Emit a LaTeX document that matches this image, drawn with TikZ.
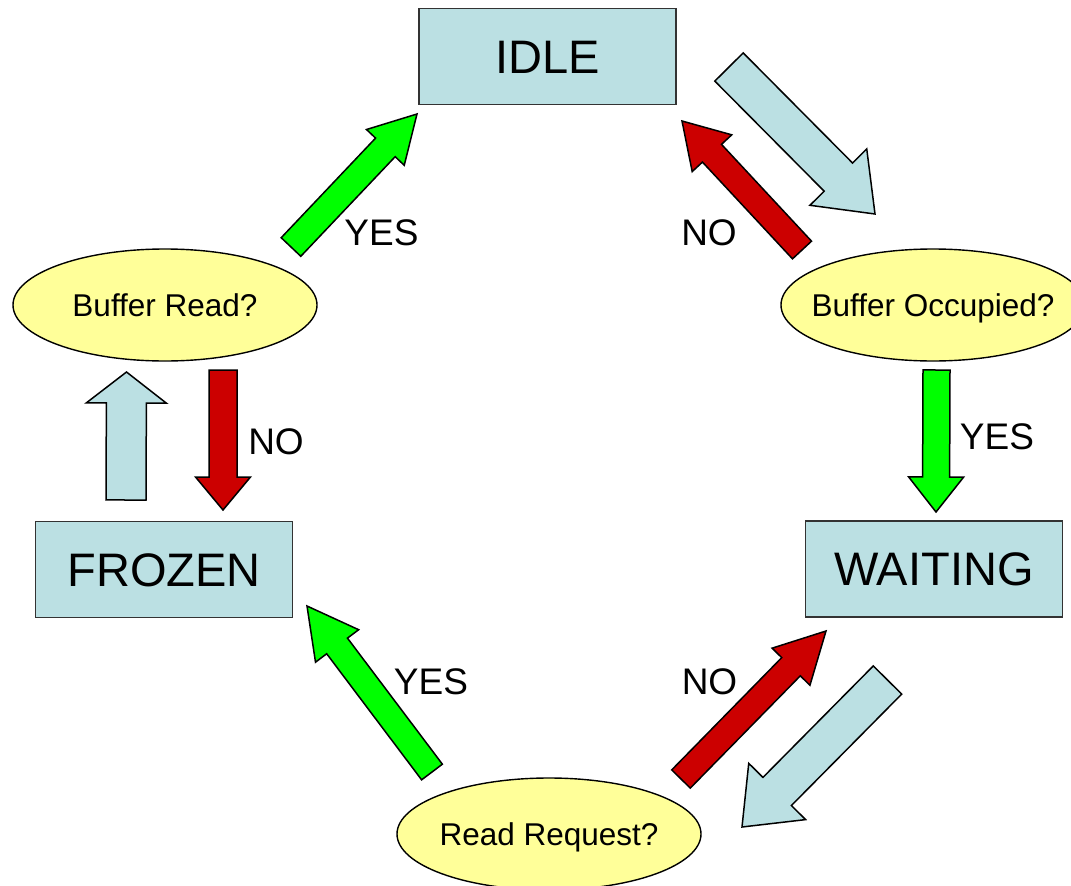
\documentclass[tikz,border=0pt]{standalone}
\usepackage{fontspec}
\setmainfont{Liberation Sans}
\usetikzlibrary{calc,shapes.geometric}

\definecolor{statefill}{HTML}{BBE0E3}
\definecolor{askfill}{HTML}{FFFF99}
\definecolor{yesgreen}{HTML}{00FF00}
\definecolor{nored}{HTML}{CC0000}

% Block arrow: #1 style, #2 tail centre, #3 tip,
% #4 half shaft width, #5 half head width, #6 head length
\newcommand\blockarrow[6]{%
  \coordinate (neck) at ($(#3)!#6!(#2)$);
  \filldraw[#1]
    ($(#2)!#4!90:(#3)$) -- ($(neck)!#4!90:(#3)$) -- ($(neck)!#5!90:(#3)$)
    -- (#3)
    -- ($(neck)!#5!-90:(#3)$) -- ($(neck)!#4!-90:(#3)$) -- ($(#2)!#4!-90:(#3)$)
    -- cycle;
}

% question text sits centred without widening the ellipse
\newcommand\asktext[1]{\makebox[0pt]{#1}}

\tikzset{
  state/.style={draw=black!80, line width=1.4pt, fill=statefill,
    minimum width=257pt, minimum height=96pt, inner sep=0pt,
    font=\fontsize{47}{50}\selectfont, text height=33.7pt, text depth=0pt},
  ask/.style={ellipse, draw=black, line width=1.4pt, fill=askfill,
    minimum width=304pt, minimum height=112pt, inner sep=0pt,
    font=\fontsize{31.5}{34}\selectfont, text height=22.6pt, text depth=0pt},
  answer/.style={font=\fontsize{37}{40}\selectfont, inner sep=0pt,
    text height=26.5pt, text depth=0pt},
  yesarrow/.style={fill=yesgreen, draw=black, line width=1.5pt},
  noarrow/.style={fill=nored, draw=black, line width=1.5pt},
  flowarrow/.style={fill=statefill, draw=black, line width=1.5pt},
}

\begin{document}
\begin{tikzpicture}[x=1pt, y=-1pt]
  \useasboundingbox (0,0) rectangle (1071,886);
  \fill[white] (0,0) rectangle (1071,886);

  % states
  \node[state] (idle)    at (547.5,56.5) {IDLE};
  \node[state] (frozen)  at (164,569.5)  {FROZEN};
  \node[state] (waiting) at (934,569)    {WAITING};

  % decisions
  \node[ask] (bufread) at (165,305) {\asktext{Buffer Read?}};
  \node[ask] (bufocc)  at (933,305) {\asktext{Buffer Occupied?}};
  \node[ask] (readreq) at (549,834) {\asktext{Read Request?}};

  % arrow end points
  \coordinate (readYesS) at (291,247);   \coordinate (readYesT) at (417,114);
  \coordinate (idleOutS) at (729,67);    \coordinate (idleOutT) at (875,214);
  \coordinate (occNoS)   at (802,250);   \coordinate (occNoT)   at (682,121);
  \coordinate (frzOutS)  at (126,500);   \coordinate (frzOutT)  at (126.5,372);
  \coordinate (readNoS)  at (223,370);   \coordinate (readNoT)  at (223,510);
  \coordinate (occYesS)  at (936.5,370); \coordinate (occYesT)  at (936,512);
  \coordinate (reqNoS)   at (681,779);   \coordinate (reqNoT)   at (826,631);
  \coordinate (waitOutS) at (887.5,680); \coordinate (waitOutT) at (742,827);
  \coordinate (reqYesS)  at (432,772);   \coordinate (reqYesT)  at (307,606);

  % transitions
  \blockarrow{yesarrow}{readYesS}{readYesT}{13.5pt}{26pt}{46pt}
  \blockarrow{flowarrow}{idleOutS}{idleOutT}{20pt}{40pt}{52pt}
  \blockarrow{noarrow}{occNoS}{occNoT}{13pt}{27pt}{44pt}
  \blockarrow{flowarrow}{frzOutS}{frzOutT}{20pt}{40pt}{31pt}
  \blockarrow{noarrow}{readNoS}{readNoT}{14pt}{27.5pt}{33pt}
  \blockarrow{yesarrow}{occYesS}{occYesT}{13.5pt}{27.5pt}{35pt}
  \blockarrow{noarrow}{reqNoS}{reqNoT}{13pt}{26.5pt}{50pt}
  \blockarrow{flowarrow}{waitOutS}{waitOutT}{20pt}{40pt}{50pt}
  \blockarrow{yesarrow}{reqYesS}{reqYesT}{13pt}{27pt}{50pt}

  % answer labels
  \node[answer] (lblReadYes) at (381.5,232.5) {YES};
  \node[answer] (lblOccNo)   at (709,232.5)   {NO};
  \node[answer] (lblReadNo)  at (276,441.5)   {NO};
  \node[answer] (lblOccYes)  at (997,436.5)   {YES};
  \node[answer] (lblReqYes)  at (431,681.5)   {YES};
  \node[answer] (lblReqNo)   at (709.5,681)   {NO};
\end{tikzpicture}
\end{document}
